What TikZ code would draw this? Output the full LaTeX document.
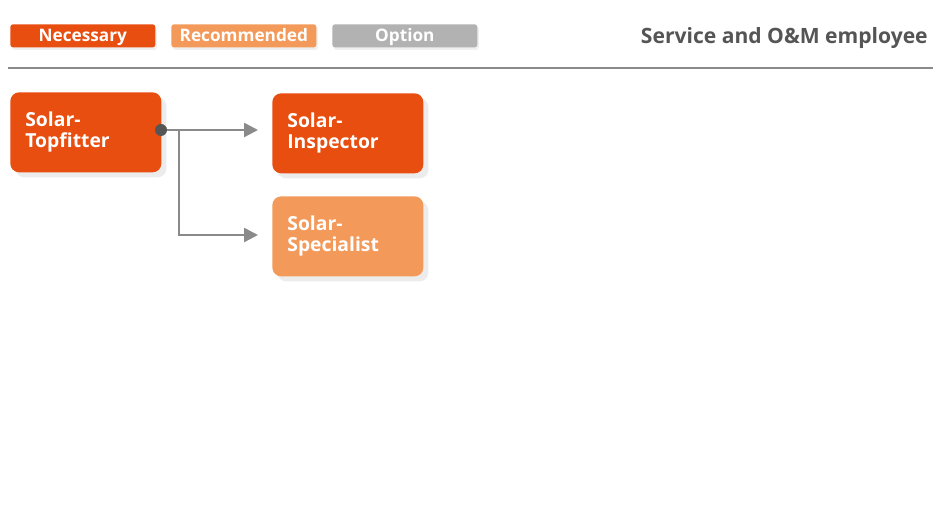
\documentclass[tikz,border=0pt]{standalone}
\usepackage{fontspec}
\setmainfont{Open Sans}
\usetikzlibrary{arrows.meta,shadows}
\definecolor{necessary}{HTML}{E84E10}
\definecolor{recommended}{HTML}{F39A5A}
\definecolor{option}{HTML}{B2B2B2}
\definecolor{darktext}{HTML}{555555}
\definecolor{linegray}{HTML}{8A8A8A}
\tikzset{
  legendbox/.style={anchor=north west, rounded corners=1.5pt, minimum width=2.9cm, minimum height=0.46cm,
    inner sep=0pt, text height=0.8em, text depth=0.1em, text=white, font=\bfseries\fontsize{9.8}{11}\selectfont,
    drop shadow={opacity=0.12, shadow xshift=0.03cm, shadow yshift=-0.05cm}},
  jobbox/.style={anchor=north west, rounded corners=5pt, minimum width=3.02cm, minimum height=1.6cm,
    inner xsep=0.3cm, text width=2.42cm, align=left, text=white, font=\bfseries\fontsize{11}{12}\selectfont,
    drop shadow={opacity=0.15, shadow xshift=0.1cm, shadow yshift=-0.1cm}},
  link/.style={linegray, line width=1.4pt}
}
\begin{document}
\begin{tikzpicture}[x=0.02cm, y=-0.02cm, >={Triangle[length=0.28cm,width=0.28cm]}]
\useasboundingbox[fill=white] (0,0) rectangle (947,523);
\node[legendbox, fill=necessary] (need) at (10,24) {Necessary};
\node[legendbox, fill=recommended] (recom) at (171,24) {Recommended};
\node[legendbox, fill=option] (opt) at (332,24) {Option};
\node[anchor=east, text=darktext, inner sep=0pt, font=\bfseries\fontsize{12}{14}\selectfont] (title) at (928,38) {Service and O\&M employee};
\draw[linegray, line width=1.6pt] (8,68) coordinate (rule-l) -- (933,68) coordinate (rule-r);
\node[jobbox, fill=necessary] (topfitter) at (10,92) {Solar-\\Topfitter};
\node[jobbox, fill=necessary] (inspector) at (272,93) {Solar-\\Inspector};
\node[jobbox, fill=recommended] (specialist) at (272,196) {Solar-\\Specialist};
\coordinate (dot) at (161,130);
\coordinate (branch) at (179,130);
\coordinate (to-insp) at (258,130);
\coordinate (to-spec) at (258,235);
\draw[link, ->] (dot) -- (to-insp);
\draw[link, ->] (branch) |- (to-spec);
\fill[darktext] (dot) circle (6);
\end{tikzpicture}
\end{document}
